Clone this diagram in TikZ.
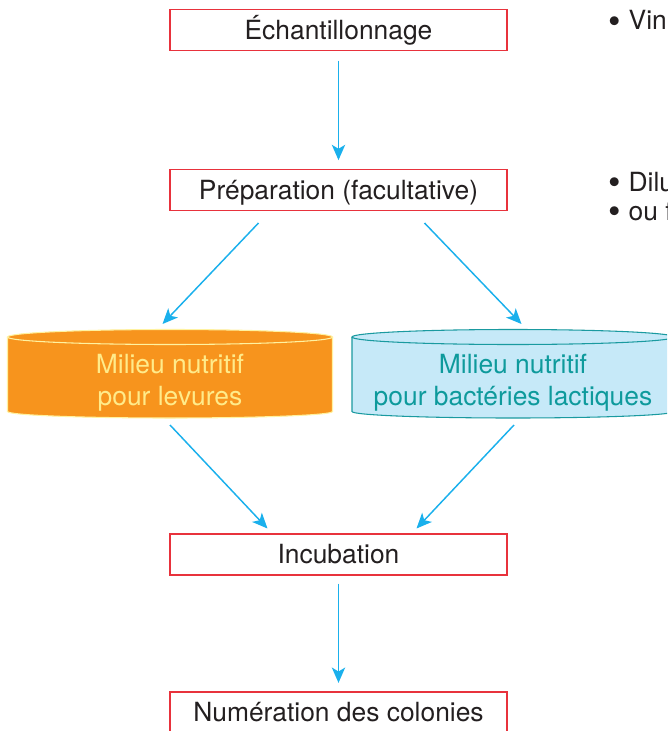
\documentclass[tikz,border=0pt]{standalone}
\usepackage{fontspec}
\setmainfont{TeX Gyre Heros}
\usetikzlibrary{arrows.meta,calc}
\definecolor{boxred}{HTML}{E8323C}
\definecolor{arrowcyan}{HTML}{1AB0EC}
\definecolor{orangefill}{HTML}{F7941D}
\definecolor{yellowtext}{HTML}{FFEB8A}
\definecolor{yellowline}{HTML}{FFF2A0}
\definecolor{bluefill}{HTML}{C6E9F8}
\definecolor{tealline}{HTML}{1A9AA0}
\definecolor{tealtext}{HTML}{0E9A9C}
\definecolor{ink}{HTML}{231F20}
\newcommand{\bigbullet}{\raisebox{-0.14em}{\scalebox{1.35}{\textbullet}}}
\begin{document}
\begin{tikzpicture}[x=0.75pt,y=-0.75pt,
  every node/.style={font=\fontsize{19.8pt}{23.7pt}\selectfont, text=ink},
  stepbox/.style={draw=boxred, line width=0.9pt, minimum width=252.75pt, minimum height=30.75pt, inner sep=0pt, text height=14.2pt, text depth=0pt},
  arr/.style={draw=arrowcyan, line width=1.1pt, -{Stealth[length=11.5pt,width=10pt,inset=3pt]}},
  cyltext/.style={align=center, inner sep=0pt},
  note/.style={anchor=base west, inner sep=0pt, text height=14.2pt, text depth=0pt}]
\useasboundingbox (0,0) rectangle (667,731);
\clip (0,0) rectangle (667,731);

% cylinders
\fill[orangefill] (7.5,337) -- (7.5,411.5) arc[start angle=180,end angle=360,x radius=121.875pt,y radius=4.875pt] -- (332.5,337) arc[start angle=0,end angle=180,x radius=121.875pt,y radius=5.625pt] -- cycle;
\draw[yellowline, line width=0.8pt] (7.5,337) -- (7.5,411.5) arc[start angle=180,end angle=360,x radius=121.875pt,y radius=4.875pt] -- (332.5,337);
\draw[yellowline, line width=0.8pt] (170,337) ellipse[x radius=121.875pt, y radius=5.625pt];

\fill[bluefill] (352,337) -- (352,411.5) arc[start angle=180,end angle=360,x radius=120.75pt,y radius=4.875pt] -- (674,337) arc[start angle=0,end angle=180,x radius=120.75pt,y radius=5.625pt] -- cycle;
\draw[tealline, line width=0.8pt] (352,337) -- (352,411.5) arc[start angle=180,end angle=360,x radius=120.75pt,y radius=4.875pt] -- (674,337);
\draw[tealline, line width=0.8pt] (513,337) ellipse[x radius=120.75pt, y radius=5.625pt];

% nodes
\node[stepbox] (ech) at (338.5,30) {Échantillonnage};
\node[stepbox] (prep) at (338.5,190.3) {Préparation (facultative)};
\node[cyltext, text=yellowtext] (lev) at (170,383) {Milieu nutritif\\pour levures};
\node[cyltext, text=tealtext] (bac) at (513,383) {Milieu nutritif\\pour bactéries lactiques};
\node[stepbox] (inc) at (338.5,554.5) {Incubation};
\node[stepbox] (num) at (338.5,712.5) {Numération des colonies};

% side notes
\node[note] (n1) at (608,30) {\bigbullet\hspace{0.3em}Vin};
\node[note] (n2) at (608,191) {\bigbullet\hspace{0.3em}Dilution};
\node[note] (n3) at (608,220) {\bigbullet\hspace{0.3em}ou filtration};

% connector end points
\coordinate (p1) at (258.5,223);
\coordinate (p2) at (162.5,324);
\coordinate (p3) at (424.5,223);
\coordinate (p4) at (521.5,324);
\coordinate (l1) at (170,425);
\coordinate (l2) at (267.5,528.5);
\coordinate (b1) at (514,425);
\coordinate (b2) at (416.5,528.5);

\draw[arr, shorten <=7.1pt, shorten >=6.8pt] (ech.south) -- (prep.north);
\draw[arr] (p1) -- (p2);
\draw[arr] (p3) -- (p4);
\draw[arr] (l1) -- (l2);
\draw[arr] (b1) -- (b2);
\draw[arr, shorten <=6pt, shorten >=6.4pt] (inc.south) -- (num.north);
\end{tikzpicture}
\end{document}
